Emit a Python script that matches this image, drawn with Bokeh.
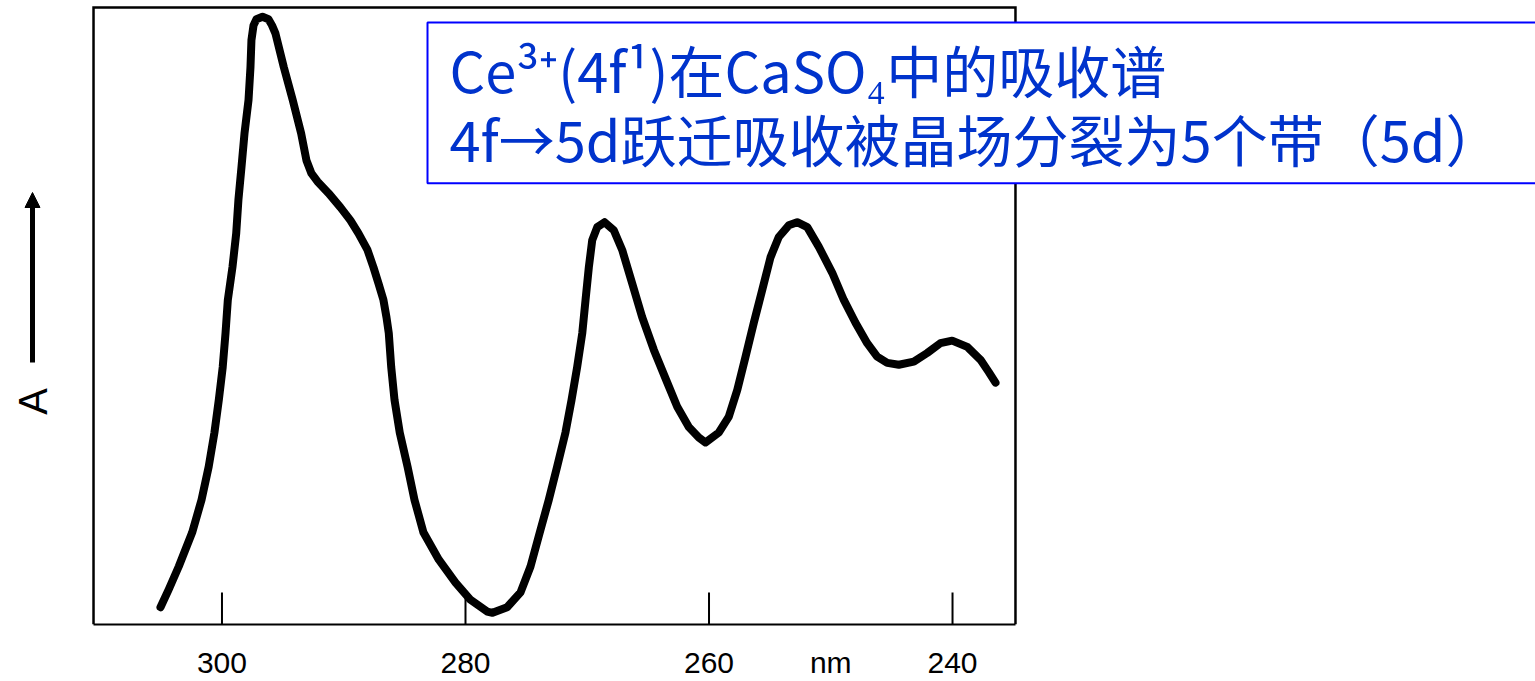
import math

from bokeh.embed import file_html
from bokeh.models import Arrow, FixedTicker, Label, NormalHead, Range1d
from bokeh.plotting import figure
from bokeh.resources import INLINE

# Absorption spectrum of Ce3+ in CaSO4 (wavelength in nm, absorbance in arbitrary units)
wavelength_nm = [
    305.05, 304.37, 303.55, 302.45, 301.68, 301.09, 300.62, 300.26, 299.94, 299.71,
    299.52, 299.14, 298.83, 298.65, 298.40, 298.15, 297.82, 297.66, 297.58, 297.41,
    297.17, 296.67, 296.18, 295.89, 295.61, 294.92, 294.19, 293.50, 293.06, 292.65,
    292.16, 291.25, 290.27, 289.45, 288.79, 288.05, 287.56, 287.15, 286.74, 286.49,
    286.30, 286.10, 285.83, 285.40, 284.76, 284.19, 283.45, 282.19, 280.82, 279.59,
    278.22, 277.78, 276.58, 275.48, 274.66, 273.90, 273.16, 272.47, 271.79, 271.29,
    270.83, 270.41, 270.14, 269.87, 269.59, 269.18, 268.58, 267.82, 267.13, 266.31,
    265.49, 264.53, 263.43, 262.61, 261.66, 260.84, 260.29, 259.20, 258.37, 257.68,
    257.00, 256.32, 255.63, 254.95, 254.27, 253.45, 252.76, 251.93, 250.98, 249.88,
    248.93, 247.97, 247.01, 246.19, 245.36, 244.41, 243.18, 242.08, 240.99, 240.03,
    238.79, 237.70, 237.02, 236.47,
]
absorbance = [
    2.8, 5.7, 9.4, 14.9, 20.2, 25.6, 31.1, 36.4, 41.7, 47.2,
    52.6, 57.9, 63.4, 68.8, 74.1, 79.6, 85.0, 90.3, 94.7, 97.1,
    98.1, 98.5, 98.1, 97.1, 95.8, 90.3, 85.0, 79.6, 75.2, 73.1,
    71.8, 69.9, 67.6, 65.5, 63.4, 60.7, 57.9, 55.3, 52.6, 49.8,
    47.2, 41.7, 36.4, 31.1, 25.6, 20.2, 14.9, 10.5, 6.8, 4.0,
    2.1, 1.9, 2.8, 5.2, 9.4, 14.9, 20.2, 25.6, 31.1, 36.4,
    41.7, 47.2, 52.6, 57.9, 62.3, 64.4, 65.2, 63.9, 60.7, 55.3,
    49.8, 44.5, 39.2, 35.3, 32.0, 30.3, 29.5, 31.1, 33.7, 38.0,
    43.4, 48.9, 54.2, 59.5, 62.8, 64.7, 65.2, 64.4, 61.2, 57.0,
    52.6, 48.9, 45.6, 43.4, 42.4, 42.1, 42.6, 44.0, 45.6, 46.0,
    45.0, 42.9, 40.9, 39.2,
]

# Axis ticks (wavelength decreases to the right) and the unit shown among them
tick_nm = [300, 280, 260, 240]
unit_position_nm = 250
unit_label = "nm"
y_label = "A"

# Extent of the boxed plotting area
box_left_nm, box_right_nm = 310.55, 234.83
box_top = 100.0

title_lines = [
    "Ce³⁺(4f¹)在CaSO₄中的吸收谱",
    "4f→5d跃迁吸收被晶场分裂为5个带（5d）",
]

W, H = 1535, 681
AXIS_Y = 625  # pixel row of the bottom axis

p = figure(
    width=W, height=H,
    output_backend="svg", toolbar_location=None,
    x_range=Range1d(318.19, 192.12), y_range=Range1d(0, 101.13),
    y_axis_location=None,
    min_border_left=0, min_border_right=0,
    min_border_top=0, min_border_bottom=H - AXIS_Y,
)
p.background_fill_color = "white"
p.border_fill_color = "white"
p.outline_line_color = None
p.grid.visible = False

ax = p.xaxis[0]
ax.ticker = FixedTicker(ticks=tick_nm + [unit_position_nm])
ax.major_label_overrides = {unit_position_nm: unit_label}
ax.bounds = (box_right_nm, box_left_nm)
ax.major_tick_in = 0
ax.major_tick_out = 0
ax.minor_tick_in = 0
ax.minor_tick_out = 0
ax.axis_line_color = "black"
ax.axis_line_width = 2
ax.major_label_standoff = 21
ax.major_label_text_font = "Liberation Sans"
ax.major_label_text_font_size = "30px"
ax.major_label_text_color = "black"

# left, top and right sides of the plot box
p.line(x=[box_left_nm, box_left_nm, box_right_nm, box_right_nm],
       y=[0, box_top, box_top, 0],
       line_color="black", line_width=2.5, line_join="miter")

# inward tick marks from the bottom edge (about 32 px long)
tick_len = 32 / 6.18
p.segment(x0=tick_nm, y0=[0] * len(tick_nm), x1=tick_nm, y1=[tick_len] * len(tick_nm),
          line_color="black", line_width=2)

# the spectrum
p.line(wavelength_nm, absorbance, line_color="black", line_width=8,
       line_join="round", line_cap="round")

# y label with an upward arrow, left of the box
p.add_layout(Arrow(x_start=32, y_start=AXIS_Y - 363, x_end=32, y_end=AXIS_Y - 193,
                   start_units="screen", end_units="screen",
                   line_color="black", line_width=5,
                   end=NormalHead(size=15, fill_color="black", line_color="black")))
p.add_layout(Label(x=32, y=AXIS_Y - 402, x_units="screen", y_units="screen", text=y_label,
                   angle=math.pi / 2, text_align="center", text_baseline="middle",
                   text_font="Liberation Sans", text_font_size="40px", text_color="black"))

# blue-bordered caption box, drawn over the top-right corner of the plot box
caption_left_nm, caption_right_nm = 283.12, 190.0
caption_top, caption_bottom = 97.57, 71.52
p.quad(left=caption_left_nm, right=caption_right_nm, top=caption_top, bottom=caption_bottom,
       fill_color="white", fill_alpha=1.0, line_color="#0000ff", line_width=2)
for text, baseline_px in zip(title_lines, [93, 162]):
    p.add_layout(Label(x=449, y=AXIS_Y - baseline_px + 24,
                       x_units="screen", y_units="screen", text=text,
                       text_align="left", text_baseline="alphabetic",
                       text_font="Noto Sans CJK SC", text_font_size="56px",
                       text_color="#0033cc"))

open("out.html", "w").write(file_html(p, INLINE))
